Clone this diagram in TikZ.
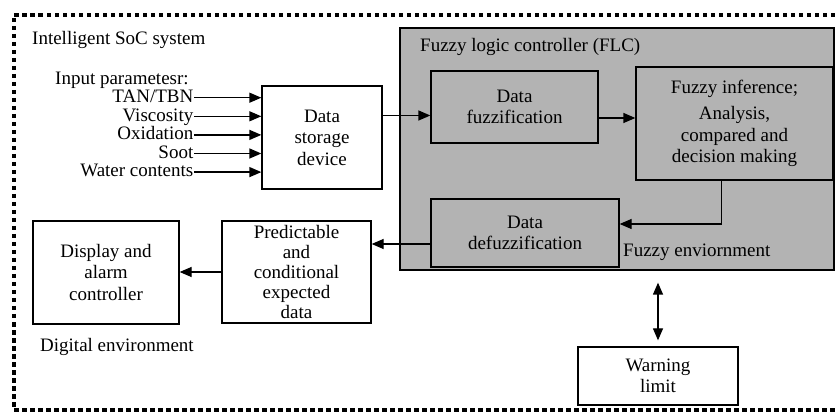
\documentclass[tikz,border=0pt]{standalone}
\usepackage{fontspec}
\setmainfont{Liberation Serif}
\usetikzlibrary{positioning}
\usetikzlibrary{arrows.meta}
\usetikzlibrary{calc}
\definecolor{flcgray}{RGB}{179,179,179}

\begin{document}
\begin{tikzpicture}[x=1pt, y=-1pt,
    font=\fontsize{19}{21.5}\selectfont,
    block/.style={draw, line width=1.3pt, align=center, inner sep=2pt},
    arr/.style={line width=1.3pt, -{Triangle[length=12pt,width=10pt]}},
    dbl/.style={line width=1.3pt, {Triangle[length=12pt,width=10pt]}-{Triangle[length=12pt,width=10pt]}},
    border/.style={line width=4pt, dash pattern=on 4.5pt off 3.5pt}]

  \useasboundingbox (0,0) rectangle (835,419);

  %outer frame
  \draw[border] (835,15) -- (14,15) -- (14,410) -- (835,410);
  \node[anchor=west, inner sep=0] (soc) at (32,40) {Intelligent SoC system};

  %fuzzy logic controller
  \node[block, fill=flcgray, minimum width=434pt, minimum height=242pt] (flc) at (617,149) {};
  \node[anchor=west, inner sep=0] (flctitle) at (420,47) {Fuzzy logic controller (FLC)};
  \node[anchor=west, inner sep=0] (fuzzenv) at (623,252) {Fuzzy enviornment};

  \node[block, fill=flcgray, minimum width=167pt, minimum height=72pt] (fuzz) at (514.5,107) {Data\\fuzzification};
  \node[block, fill=flcgray, minimum width=197pt, minimum height=113pt] (infer) at (734.5,123.5)
       {Fuzzy inference;\\[5pt]Analysis,\\compared and\\decision making};
  \node[block, fill=flcgray, minimum width=188pt, minimum height=68pt] (defuzz) at (525,233) {Data\\defuzzification};

  %digital side
  \node[block, fill=white, minimum width=120pt, minimum height=103pt] (storage) at (322,137.5) {Data\\storage\\device};
  \node[block, fill=white, minimum width=149pt, minimum height=102pt, font=\fontsize{19}{19.8}\selectfont] (predict) at (296.5,272)
       {Predictable\\and\\conditional\\expected\\data};
  \node[block, fill=white, minimum width=146pt, minimum height=103pt] (display) at (106,272.5) {Display and\\alarm\\controller};
  \node[anchor=west, inner sep=0] (digenv) at (40,347) {Digital environment};
  \node[block, fill=white, minimum width=160pt, minimum height=58pt] (warn) at (658,376) {Warning\\limit};

  %inputs
  \node[anchor=west, inner sep=0] (inhead) at (55,80) {Input parametesr:};
  \def\dy{18.6}
  \foreach \i/\name in {0/TAN\slash TBN, 1/Viscosity, 2/Oxidation, 3/Soot, 4/Water contents}{
      \node[anchor=east, inner sep=0.5pt, text height=12.5pt, text depth=3pt] (in\i) at (194, 97.7+\i*\dy) {\name};
      \draw[arr] (in\i.east) -- (in\i.east -| storage.west);
  }

  %connectors
  \draw[arr] ([yshift=22pt]storage.east) -- ([yshift=22pt]storage.east -| fuzz.west);
  \draw[arr] ([yshift=-11pt]fuzz.east) -- ([yshift=-11pt]fuzz.east -| infer.west);
  \draw[arr] ([xshift=-13pt]infer.south) |- ([yshift=9pt]defuzz.east);
  \draw[arr] ([yshift=-11pt]defuzz.west) -- ([yshift=-11pt]defuzz.west -| predict.east);
  \draw[arr] (predict.west) -- (predict.west -| display.east);
  \draw[dbl, shorten <=12pt, shorten >=6pt] (warn.north |- flc.south) -- (warn.north);

\end{tikzpicture}
\end{document}
